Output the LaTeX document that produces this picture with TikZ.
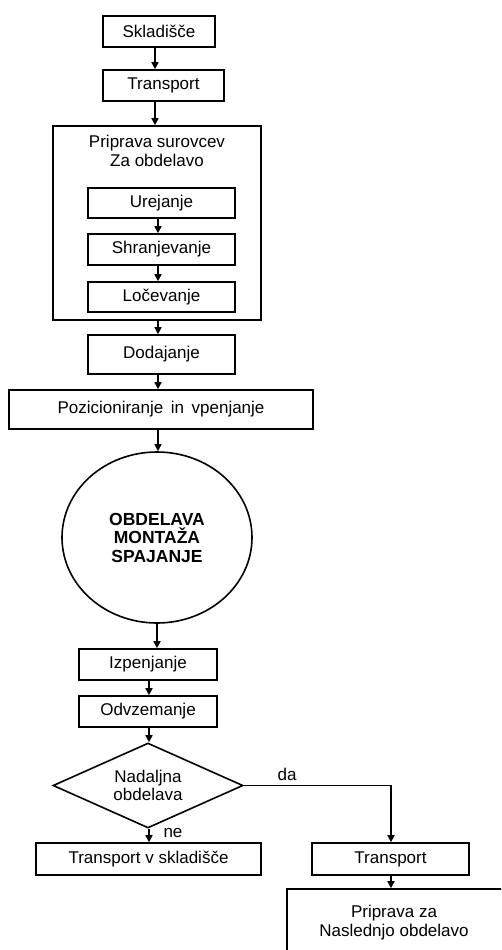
\documentclass[tikz,border=0pt]{standalone}
\usepackage{fontspec}
\setmainfont{Liberation Sans}
\usetikzlibrary{shapes.geometric,arrows.meta}
\begin{document}
\begin{tikzpicture}[x=1pt,y=-1pt,
  box/.style={draw, line width=1.6pt, rectangle, inner sep=0pt, font=\fontsize{17}{18.5}\selectfont, align=center},
  arr/.style={line width=1.6pt, -{Triangle[width=7pt,length=7pt]}},
  lbl/.style={inner sep=0pt, font=\fontsize{17}{18.5}\selectfont}]
\clip (0,0) rectangle (501,950);
\fill[white] (0,0) rectangle (501,950);
% top chain
\node[box, minimum width=112pt, minimum height=31pt] (sk) at (159,31.5) {Skladišče};
\node[box, minimum width=121pt, minimum height=31pt] (tr1) at (163.5,85.5) {Transport};
\node[box, minimum width=208pt, minimum height=194pt] (big) at (157,223) {};
\node[lbl, align=center] (title) at (157,151) {Priprava surovcev\\Za obdelavo};
\node[box, minimum width=147pt, minimum height=30pt] (ur) at (161.5,203) {Urejanje};
\node[box, minimum width=147pt, minimum height=31pt] (sh) at (161.5,249.5) {Shranjevanje};
\node[box, minimum width=147pt, minimum height=30pt] (lo) at (161.5,297) {Ločevanje};
\node[box, minimum width=147pt, minimum height=39pt] (do) at (161.5,354.5) {Dodajanje};
\node[box, minimum width=304pt, minimum height=39pt] (po) at (161,409.5) {Pozicioniranje\, in\, vpenjanje};
\node[draw, ellipse, line width=1.6pt, inner sep=0pt, minimum width=190pt, minimum height=171pt,
      font=\fontsize{17.5}{18.5}\selectfont\bfseries, align=center] (ci) at (157,537.5) {OBDELAVA\\MONTAŽA\\SPAJANJE};
\node[box, minimum width=138pt, minimum height=31pt] (iz) at (148,664.5) {Izpenjanje};
\node[box, minimum width=138pt, minimum height=31pt] (od) at (148,711.5) {Odvzemanje};
\node[draw, diamond, line width=1.6pt, inner sep=0pt, aspect=2.235, minimum width=190pt, minimum height=85pt,
      font=\fontsize{17}{18.5}\selectfont, align=center] (di) at (148,785.5) {Nadaljna\\obdelava};
\node[box, minimum width=225pt, minimum height=32pt] (tvs) at (148.5,859) {Transport v skladišče};
\node[box, minimum width=157pt, minimum height=32pt] (tr2) at (390.5,859) {Transport};
\node[box, minimum width=220pt, minimum height=90pt] (pr) at (397,934) {};
\node[lbl, align=center] (prt) at (394,922.5) {Priprava za\\Naslednjo obdelavo};
% labels
\node[lbl] (da) at (287,774) {da};
\node[lbl] (ne) at (173,833) {ne};
% arrow x positions
\coordinate (xa) at (155,0);
\coordinate (xb) at (158,0);
\coordinate (xc) at (149,0);
\coordinate (xd) at (391,0);
\draw[arr] (sk.south -| xa) -- (tr1.north -| xa);
\draw[arr] (tr1.south -| xa) -- (big.north -| xa);
\draw[arr] (ur.south -| xb) -- (sh.north -| xb);
\draw[arr] (sh.south -| xb) -- (lo.north -| xb);
\draw[arr] (big.south -| xb) -- (do.north -| xb);
\draw[arr] (do.south -| xb) -- (po.north -| xb);
\draw[arr] (po.south -| xb) -- (ci.north -| xb);
\draw[arr] (ci.south) -- (iz.north -| ci.south);
\draw[arr] (iz.south -| xc) -- (od.north -| xc);
\draw[arr] (od.south -| xc) -- (di.north -| xc);
\draw[arr] (di.south -| xc) -- (tvs.north -| xc);
\draw[arr] (di.east) -| (tr2.north -| xd);
\draw[arr] (tr2.south -| xd) -- (pr.north -| xd);
\end{tikzpicture}
\end{document}
